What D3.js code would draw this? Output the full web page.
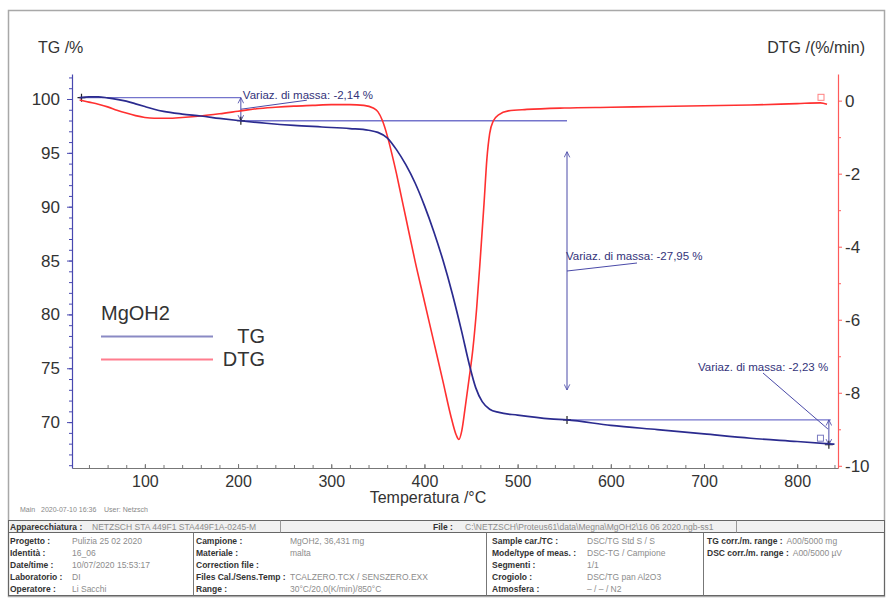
<!DOCTYPE html>
<html><head><meta charset="utf-8">
<script src="https://cdn.jsdelivr.net/npm/d3@7"></script>
<style>
body{margin:0;background:#fff;}
svg{display:block;font-family:"Liberation Sans",Arial,sans-serif;}
</style>
</head><body>
<svg id="c" width="886" height="599"></svg>
<script>
// ---------- data ----------
const tgTemps  = [30,40,50,60,70,80,90,100,110,120,140,160,180,200,230,260,290,320,340,350,360,370,380,390,400,410,420,430,440,448,455,462,470,480,500,535,553,600,650,700,750,800,840];
const tgValues = [100.12,100.2,100.2,100.1,99.97,99.8,99.55,99.3,99.05,98.85,98.6,98.42,98.2,98.0,97.75,97.55,97.4,97.25,97.1,96.9,96.4,95.3,93.9,92.2,90.1,87.7,85.0,81.9,78.4,75.4,73.2,71.9,71.2,70.9,70.65,70.3,70.2,69.7,69.3,68.9,68.5,68.2,67.95];

const dtgTemps  = [30,40,50,60,70,80,90,100,110,125,140,160,180,200,220,240,260,280,300,320,335,345,350,355,360,365,370,375,380,390,400,410,420,428,434,437,440,444,448,452,456,460,464,467,470,474,480,490,510,550,600,650,700,750,800,825,832];
const dtgValues = [0.02,-0.04,-0.1,-0.17,-0.26,-0.34,-0.41,-0.46,-0.48,-0.48,-0.46,-0.42,-0.36,-0.29,-0.22,-0.18,-0.15,-0.13,-0.11,-0.11,-0.13,-0.2,-0.3,-0.55,-0.95,-1.45,-2.0,-2.6,-3.2,-4.4,-5.5,-6.6,-7.7,-8.6,-9.15,-9.28,-9.05,-8.35,-7.6,-6.8,-5.7,-4.3,-2.8,-1.6,-0.9,-0.55,-0.38,-0.28,-0.24,-0.2,-0.18,-0.16,-0.14,-0.12,-0.08,-0.06,-0.1];

const xTicks   = [100,200,300,400,500,600,700,800];
const tgTicks  = [70,75,80,85,90,95,100];
const dtgTicks = [0,-2,-4,-6,-8,-10];

const stepTemps  = [30,203,553,840];
const stepLevels = [100.12,97.98,70.2,67.9];
const stepLabels = ["Variaz. di massa: -2,14 %","Variaz. di massa: -27,95 %","Variaz. di massa: -2,23 %"];

const legendTitle = "MgOH2";
const seriesNames = ["TG","DTG"];
const axisTitles  = ["TG /%","DTG /(%/min)","Temperatura /°C"];
const footerNote  = "Main   2020-07-10 16:36    User: Netzsch";

const headerCells = [["Apparecchiatura :","NETZSCH STA 449F1 STA449F1A-0245-M"],["File :","C:\\NETZSCH\\Proteus61\\data\\Megna\\MgOH2\\16 06 2020.ngb-ss1"]];
const col1Labels = ["Progetto :","Identità :","Date/time :","Laboratorio :","Operatore :"];
const col1Values = ["Pulizia 25 02 2020","16_06","10/07/2020 15:53:17","DI","Li Sacchi"];
const col2Labels = ["Campione :","Materiale :","Correction file :","Files Cal./Sens.Temp :","Range :"];
const col2Values = ["MgOH2, 36,431 mg","malta","","TCALZERO.TCX / SENSZERO.EXX","30°C/20,0(K/min)/850°C"];
const col3Labels = ["Sample car./TC :","Mode/type of meas. :","Segmenti :","Crogiolo :","Atmosfera :"];
const col3Values = ["DSC/TG Std S / S","DSC-TG / Campione","1/1","DSC/TG pan Al2O3","– / – / N2"];
const col4Labels = ["TG corr./m. range :","DSC corr./m. range :"];
const col4Values = ["A00/5000 mg","A00/5000 µV"];

// ---------- layout ----------
const svg = d3.select("#c");
const L = 72, R = 838, T = 74, B = 468;
const BLUE = "#2b2b8f", RED = "#ff3030", ANN = "#7474cc", ANN_D = "#4a4aa8";

const x  = d3.scaleLinear().domain([21.8, 843.8]).range([L, R]);
const yL = d3.scaleLinear().domain([65.74, 102.32]).range([B, T]);
const yR = d3.scaleLinear().domain([-10.06, 0.73]).range([B, T]);

// frame
svg.append("rect").attr("x",8.5).attr("y",10.5).attr("width",876).attr("height",586)
  .attr("fill","none").attr("stroke","#a8a8a8").attr("stroke-width",1.5);

// defs arrow
const defs = svg.append("defs");
defs.append("marker").attr("id","arr").attr("viewBox","0 0 10 10").attr("refX",9).attr("refY",5)
  .attr("markerWidth",7).attr("markerHeight",7).attr("orient","auto-start-reverse")
  .attr("markerUnits","userSpaceOnUse")
  .append("path").attr("d","M1,1 L9,5 L1,9").attr("fill","none").attr("stroke",ANN_D).attr("stroke-width",1.2);

// axes
function styleAxis(g, col){
  g.select(".domain").attr("stroke",col).attr("stroke-width",1.2);
  g.selectAll(".tick line").attr("stroke",col);
  g.selectAll(".tick text").attr("fill","#333");
}
const minorX = d3.range(40, 841, 20);
const gxm = svg.append("g").attr("transform",`translate(0,${B})`)
  .call(d3.axisBottom(x).tickValues(minorX).tickSize(-3).tickFormat(""));
styleAxis(gxm,"#777"); gxm.select(".domain").remove();
const gx = svg.append("g").attr("transform",`translate(0,${B})`)
  .call(d3.axisBottom(x).tickValues(xTicks).tickSizeInner(-4).tickSizeOuter(0).tickPadding(8));
gx.attr("font-size",16).attr("font-family",null);
styleAxis(gx,"#777");

const minorL = d3.range(66, 103, 1);
const glm = svg.append("g").attr("transform",`translate(${L},0)`)
  .call(d3.axisLeft(yL).tickValues(minorL).tickSize(3).tickFormat(""));
styleAxis(glm,"#4848b0"); glm.select(".domain").remove();
const gl = svg.append("g").attr("transform",`translate(${L},0)`)
  .call(d3.axisLeft(yL).tickValues(tgTicks).tickSizeInner(5).tickSizeOuter(0).tickPadding(7));
gl.attr("font-size",17).attr("font-family",null);
styleAxis(gl,"#4848b0");

const minorR = d3.range(-9, 1, 2);
const grm = svg.append("g").attr("transform",`translate(${R},0)`)
  .call(d3.axisRight(yR).tickValues(minorR).tickSize(3).tickFormat(""));
styleAxis(grm,"#ff5a5a"); grm.select(".domain").remove();
const gr = svg.append("g").attr("transform",`translate(${R},0)`)
  .call(d3.axisRight(yR).tickValues(dtgTicks).tickSizeInner(4).tickSizeOuter(0).tickPadding(3).tickFormat(d3.format("d")));
gr.attr("font-size",17).attr("font-family",null);
styleAxis(gr,"#ff5a5a");
gr.selectAll(".tick text").text(d => d < 0 ? "-" + Math.abs(d) : d);

// axis titles
svg.append("text").attr("x",38).attr("y",53).attr("font-size",16).attr("fill","#333").text(axisTitles[0]);
svg.append("text").attr("x",865).attr("y",53).attr("font-size",16).attr("fill","#333").attr("text-anchor","end").text(axisTitles[1]);
svg.append("text").attr("x",428).attr("y",503).attr("font-size",16).attr("fill","#333").attr("text-anchor","middle").text(axisTitles[2]);

// ---------- annotations ----------
const ann = svg.append("g").attr("fill","none");
function hline(t0,t1,v){ ann.append("line").attr("x1",x(t0)).attr("x2",x(t1)).attr("y1",yL(v)).attr("y2",yL(v)).attr("stroke",ANN).attr("stroke-width",1.3); }
function cross(t,v){
  const cx = x(t), cy = yL(v);
  ann.append("path").attr("d",`M${cx-4},${cy}H${cx+4}M${cx},${cy-4}V${cy+4}`).attr("stroke","#222").attr("stroke-width",1.2);
}
function varrow(t,y1,y2){
  ann.append("line").attr("x1",x(t)).attr("x2",x(t)).attr("y1",y1).attr("y2",y2)
    .attr("stroke",ANN_D).attr("stroke-width",1).attr("marker-start","url(#arr)").attr("marker-end","url(#arr)");
}
function leader(x1,y1,x2,y2){ ann.append("line").attr("x1",x1).attr("y1",y1).attr("x2",x2).attr("y2",y2).attr("stroke",ANN_D).attr("stroke-width",1); }
function label(px,py,s){ svg.append("text").attr("x",px).attr("y",py).attr("font-size",11.5).attr("fill","#33337a").text(s); }

hline(stepTemps[0], stepTemps[1], stepLevels[0]);
hline(stepTemps[1], stepTemps[2], stepLevels[1]);
hline(stepTemps[2], stepTemps[3]-4, stepLevels[2]);
varrow(stepTemps[1], yL(stepLevels[0]), yL(stepLevels[1]));
varrow(stepTemps[2], yL(stepLevels[1])+31, yL(stepLevels[2])-30);
varrow(stepTemps[3]-6, yL(stepLevels[2]), yL(stepLevels[3]));
cross(stepTemps[0]+2, stepLevels[0]);
cross(stepTemps[1], stepLevels[1]);
cross(stepTemps[2], stepLevels[2]);
cross(stepTemps[3]-6, stepLevels[3]);

const a1x = x(stepTemps[1]), a2x = x(stepTemps[2]), a3x = x(stepTemps[3]-6);
label(a1x+2, yL(stepLevels[0])+1, stepLabels[0]);
leader(a1x, (yL(stepLevels[0])+yL(stepLevels[1]))/2, a1x+66, yL(stepLevels[0])+2.5);
label(a2x-1, 260, stepLabels[1]);
leader(a2x, 271, a2x+70, 263);
label(698, 371, stepLabels[2]);
leader(763, 373, a3x-1, yL(stepLevels[2])+9);

// ---------- curves ----------
const tgData  = tgTemps.map((t,i)=>[t,tgValues[i]]);
const dtgData = dtgTemps.map((t,i)=>[t,dtgValues[i]]);
svg.append("path").datum(dtgData).attr("fill","none").attr("stroke",RED).attr("stroke-width",1.6)
  .attr("d", d3.line().x(d=>x(d[0])).y(d=>yR(d[1])).curve(d3.curveMonotoneX));
svg.append("path").datum(tgData).attr("fill","none").attr("stroke",BLUE).attr("stroke-width",1.7)
  .attr("d", d3.line().x(d=>x(d[0])).y(d=>yL(d[1])).curve(d3.curveMonotoneX));

// end markers (small squares)
const lastD = dtgData[dtgData.length-1], lastT = tgData[tgData.length-1];
svg.append("rect").attr("x",x(lastD[0])-9).attr("y",yR(lastD[1])-10).attr("width",6).attr("height",6)
  .attr("fill","none").attr("stroke","#ff8080").attr("stroke-width",1);
svg.append("rect").attr("x",x(lastT[0])-17).attr("y",yL(lastT[1])-9).attr("width",6).attr("height",6)
  .attr("fill","none").attr("stroke","#7a7ac0").attr("stroke-width",1);

// ---------- legend ----------
svg.append("text").attr("x",101).attr("y",320).attr("font-size",20).attr("fill","#333").text(legendTitle);
svg.append("line").attr("x1",101).attr("x2",213).attr("y1",336.5).attr("y2",336.5).attr("stroke","#8a8ac4").attr("stroke-width",2);
svg.append("line").attr("x1",101).attr("x2",213).attr("y1",359.5).attr("y2",359.5).attr("stroke","#ff7d8e").attr("stroke-width",2);
svg.append("text").attr("x",265).attr("y",343).attr("font-size",20).attr("fill","#333").attr("text-anchor","end").text(seriesNames[0]);
svg.append("text").attr("x",265).attr("y",366).attr("font-size",20).attr("fill","#333").attr("text-anchor","end").text(seriesNames[1]);

// ---------- footer & table ----------
svg.append("text").attr("x",20).attr("y",512).attr("font-size",7).attr("fill","#888").attr("xml:space","preserve").text(footerNote);

const tb = svg.append("g").attr("font-size",8.5);
tb.append("rect").attr("x",8.5).attr("y",520.5).attr("width",876).attr("height",12).attr("fill","#f1f1f1").attr("stroke","#666").attr("stroke-width",1);
tb.append("rect").attr("x",8.5).attr("y",532.5).attr("width",876).attr("height",63).attr("fill","none").attr("stroke","#666").attr("stroke-width",1);
[193.5, 486.5, 703.5].forEach(cx => tb.append("line").attr("x1",cx).attr("x2",cx).attr("y1",532.5).attr("y2",595.5).attr("stroke","#777"));
[280.5, 736.5].forEach(cx => tb.append("line").attr("x1",cx).attr("x2",cx).attr("y1",520.5).attr("y2",532.5).attr("stroke","#999"));

function lab(px,py,s){ return tb.append("text").attr("x",px).attr("y",py).attr("fill","#333").attr("font-weight","bold").text(s); }
function val(px,py,s){ return tb.append("text").attr("x",px).attr("y",py).attr("fill","#8c8c8c").text(s); }
function pair(lx,vx,py,ls,vs){
  const t = lab(lx,py,ls);
  const end = lx + t.node().getComputedTextLength() + 4;
  val(Math.max(vx,end),py,vs);
}
pair(10,92,530,headerCells[0][0],headerCells[0][1]);
pair(433,465,530,headerCells[1][0],headerCells[1][1]);
const rowY = [544,556,568,580,592];
col1Labels.forEach((s,i)=>pair(10,72,rowY[i],s,col1Values[i]));
col2Labels.forEach((s,i)=>pair(196,290,rowY[i],s,col2Values[i]));
col3Labels.forEach((s,i)=>pair(492,587,rowY[i],s,col3Values[i]));
col4Labels.forEach((s,i)=>pair(707,774,rowY[i],s,col4Values[i]));
</script>
</body></html>
